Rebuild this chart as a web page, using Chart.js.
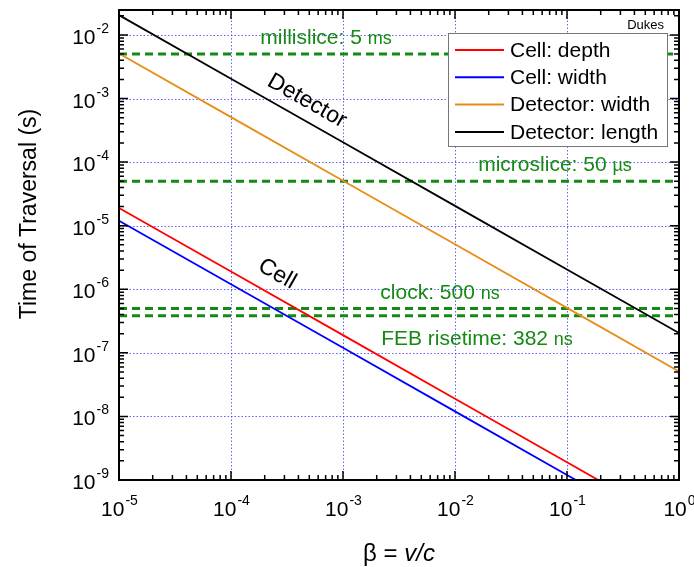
<!DOCTYPE html>
<html>
<head>
<meta charset="utf-8">
<script src="https://cdn.jsdelivr.net/npm/chart.js@4.4.1/dist/chart.umd.min.js"></script>
<style>
  html, body { margin: 0; padding: 0; background: #fff; }
  #wrap { width: 694px; height: 567px; }
</style>
</head>
<body>
<div id="wrap"><canvas id="TraversalChart"></canvas></div>
<script>
// beta = v/c at each decade
const betaValues = [1e-5, 1e-4, 1e-3, 1e-2, 1e-1, 1];
// time of traversal (s)
const cellDepth = [1.9e-5, 1.9e-6, 1.9e-7, 1.9e-8, 1.9e-9, 1.9e-10];
const cellWidth = [1.2e-5, 1.2e-6, 1.2e-7, 1.2e-8, 1.2e-9, 1.2e-10];
const detectorWidth = [5.1e-3, 5.1e-4, 5.1e-5, 5.1e-6, 5.1e-7, 5.1e-8];
const detectorLength = [2.05e-2, 2.05e-3, 2.05e-4, 2.05e-5, 2.05e-6, 2.05e-7];
const seriesNames = ["Cell: depth", "Cell: width", "Detector: width", "Detector: length"];

// reference time scales (s)
const levelNames = ["millislice: 5 ms", "microslice: 50 \u00b5s", "clock: 500 ns", "FEB risetime: 382 ns"];
const levelValues = [5e-3, 5e-5, 5e-7, 3.82e-7];

const xTickExps = [-5, -4, -3, -2, -1, 0];
const yTickExps = [-9, -8, -7, -6, -5, -4, -3, -2];

const FONT = "'Liberation Sans', Arial, sans-serif";
const GREEN = "#148a14";

function pts(ys) {
    return betaValues.map((b, i) => ({ x: b, y: ys[i] }));
}

function levelLine(v) {
    return [{ x: betaValues[0], y: v }, { x: betaValues[betaValues.length - 1], y: v }];
}

// text for the level lines: [x pixel centre, offset from its line]
const levelLabelPos = [[326, -18], [555, -18], [440, -17], [477, 21]];

function drawPow(ctx, exp, x, y, align) {
    const base = "10", sup = String(exp);
    ctx.font = "21px " + FONT;
    const wb = ctx.measureText(base).width;
    ctx.font = "14px " + FONT;
    const ws = ctx.measureText(sup).width;
    const w = wb + ws;
    let x0 = x;
    if (align === "center") x0 = x - w / 2;
    if (align === "right") x0 = x - w;
    ctx.textAlign = "left";
    ctx.textBaseline = "alphabetic";
    ctx.font = "21px " + FONT;
    ctx.fillText(base, x0, y);
    ctx.font = "14px " + FONT;
    ctx.fillText(sup, x0 + wb + 1, y - 11);
}

// level label, with the unit drawn a little smaller
function drawLevelText(ctx, text, cx, cy) {
    const k = text.lastIndexOf(" ");
    const head = text.slice(0, k + 1), unit = text.slice(k + 1);
    ctx.font = "21px " + FONT;
    const wh = ctx.measureText(head).width;
    ctx.font = "18px " + FONT;
    const wu = ctx.measureText(unit).width;
    const x0 = cx - (wh + wu) / 2;
    ctx.textAlign = "left";
    ctx.textBaseline = "alphabetic";
    ctx.font = "21px " + FONT;
    ctx.fillText(head, x0, cy + 8);
    ctx.font = "18px " + FONT;
    ctx.fillText(unit, x0 + wh, cy + 8);
}

const framePlugin = {
    id: "frame",
    beforeDatasetsDraw(chart) {
        const { ctx, chartArea: a, scales } = chart;
        ctx.save();
        ctx.strokeStyle = "rgba(70,70,255,0.85)";
        ctx.lineWidth = 1;
        ctx.setLineDash([1.5, 2]);
        xTickExps.forEach(e => {
            const px = Math.round(scales.x.getPixelForValue(Math.pow(10, e))) + 0.5;
            ctx.beginPath(); ctx.moveTo(px, a.top); ctx.lineTo(px, a.bottom); ctx.stroke();
        });
        yTickExps.forEach(e => {
            const py = Math.round(scales.y.getPixelForValue(Math.pow(10, e))) + 0.5;
            ctx.beginPath(); ctx.moveTo(a.left, py); ctx.lineTo(a.right, py); ctx.stroke();
        });
        ctx.restore();
    },
    afterDraw(chart) {
        const { ctx, chartArea: a, scales } = chart;
        ctx.save();
        ctx.fillStyle = "#000";
        ctx.strokeStyle = "#000";

        // tick marks, inward on all four sides
        ctx.lineWidth = 1.5;
        for (let e = -5; e <= 0; e++) {
            for (let m = 1; m <= 9; m++) {
                const v = m * Math.pow(10, e);
                if (v > scales.x.max * 1.0001) continue;
                const px = scales.x.getPixelForValue(v);
                const len = m === 1 ? 9 : 5;
                ctx.beginPath();
                ctx.moveTo(px, a.bottom); ctx.lineTo(px, a.bottom - len);
                ctx.moveTo(px, a.top); ctx.lineTo(px, a.top + len);
                ctx.stroke();
            }
        }
        for (let e = -9; e <= -2; e++) {
            for (let m = 1; m <= 9; m++) {
                const v = m * Math.pow(10, e);
                if (v > scales.y.max) continue;
                const py = scales.y.getPixelForValue(v);
                const len = m === 1 ? 9 : 5;
                ctx.beginPath();
                ctx.moveTo(a.left, py); ctx.lineTo(a.left + len, py);
                ctx.moveTo(a.right, py); ctx.lineTo(a.right - len, py);
                ctx.stroke();
            }
        }

        // frame
        ctx.lineWidth = 2;
        ctx.strokeRect(a.left, a.top, a.right - a.left, a.bottom - a.top);

        // tick labels
        xTickExps.forEach(e => {
            drawPow(ctx, e, scales.x.getPixelForValue(Math.pow(10, e)), a.bottom + 36, "center");
        });
        yTickExps.forEach(e => {
            drawPow(ctx, e, a.left - 11, scales.y.getPixelForValue(Math.pow(10, e)) + 9, "right");
        });

        // axis titles
        ctx.textBaseline = "middle";
        ctx.textAlign = "center";
        ctx.font = "23px " + FONT;
        ctx.save();
        ctx.translate(30, 214);
        ctx.rotate(-Math.PI / 2);
        ctx.fillText("Time of Traversal (s)", 0, 0);
        ctx.restore();

        ctx.textAlign = "left";
        ctx.textBaseline = "alphabetic";
        const t1 = "\u03b2 = ", t2 = "v/c";
        ctx.font = "24px " + FONT;
        const w1 = ctx.measureText(t1).width;
        ctx.font = "italic 24px " + FONT;
        const w2 = ctx.measureText(t2).width;
        const xs = 399 - (w1 + w2) / 2;
        ctx.font = "24px " + FONT;
        ctx.fillText(t1, xs, 561);
        ctx.font = "italic 24px " + FONT;
        ctx.fillText(t2, xs + w1, 561);

        // level labels
        ctx.fillStyle = GREEN;
        levelNames.forEach((name, i) => {
            const py = scales.y.getPixelForValue(levelValues[i]);
            const [cx, dy] = levelLabelPos[i];
            drawLevelText(ctx, name, cx, py + dy);
        });

        // line annotations
        ctx.fillStyle = "#000";
        ctx.textAlign = "center";
        ctx.textBaseline = "middle";
        ctx.font = "23px " + FONT;
        const ang = Math.atan2(
            scales.y.getPixelForValue(1e-9) - scales.y.getPixelForValue(1e-8),
            scales.x.getPixelForValue(1e-4) - scales.x.getPixelForValue(1e-5));
        [["Detector", 307, 101], ["Cell", 277, 274]].forEach(([txt, cx, cy]) => {
            ctx.save();
            ctx.translate(cx, cy);
            ctx.rotate(ang);
            ctx.fillText(txt, 0, 0);
            ctx.restore();
        });

        ctx.font = "13px " + FONT;
        ctx.textAlign = "right";
        ctx.fillText("Dukes", 664, 25);

        // legend box
        const lx = 448, ly = 33, lw = 219, lh = 113;
        ctx.fillStyle = "#fff";
        ctx.fillRect(lx, ly, lw, lh);
        ctx.strokeStyle = "#777";
        ctx.lineWidth = 1;
        ctx.strokeRect(lx + 0.5, ly + 0.5, lw, lh);
        ctx.font = "21px " + FONT;
        ctx.textAlign = "left";
        ctx.textBaseline = "middle";
        seriesNames.forEach((name, i) => {
            const ds = chart.data.datasets[i];
            const ry = 50 + i * 27.3;
            ctx.strokeStyle = ds.borderColor;
            ctx.lineWidth = 2;
            ctx.beginPath(); ctx.moveTo(455, ry); ctx.lineTo(504, ry); ctx.stroke();
            ctx.fillStyle = "#000";
            ctx.fillText(name, 510, ry + 1);
        });
        ctx.restore();
    }
};

function TraversalChart() {
    const ctx = document.getElementById("TraversalChart");
    const colors = ["rgb(255,0,0)", "rgb(0,0,255)", "rgb(232,140,24)", "rgb(0,0,0)"];
    const series = [cellDepth, cellWidth, detectorWidth, detectorLength];

    const datasets = series.map((ys, i) => ({
        label: seriesNames[i],
        data: pts(ys),
        borderColor: colors[i],
        backgroundColor: colors[i],
        borderWidth: 1.8,
        pointRadius: 0,
        fill: false,
    }));

    levelValues.forEach((v, i) => {
        datasets.push({
            label: levelNames[i],
            data: levelLine(v),
            borderColor: GREEN,
            borderWidth: 3,
            borderDash: [8, 5],
            pointRadius: 0,
            fill: false,
        });
    });

    new Chart(ctx, {
        type: "line",
        data: { datasets: datasets },
        plugins: [framePlugin],
        options: {
            responsive: true,
            maintainAspectRatio: false,
            animation: false,
            layout: {
                padding: { left: 119, right: 15, top: 10, bottom: 87 },
            },
            scales: {
                x: {
                    type: "logarithmic",
                    min: 1e-5,
                    max: 1,
                    ticks: { display: false },
                    grid: { display: false, drawTicks: false },
                    border: { display: false },
                },
                y: {
                    type: "logarithmic",
                    min: 1e-9,
                    max: 0.0247,
                    ticks: { display: false },
                    grid: { display: false, drawTicks: false },
                    border: { display: false },
                },
            },
            plugins: {
                legend: { display: false },
                tooltip: { enabled: false },
            },
        },
    });
}

TraversalChart()
</script>
</body>
</html>
